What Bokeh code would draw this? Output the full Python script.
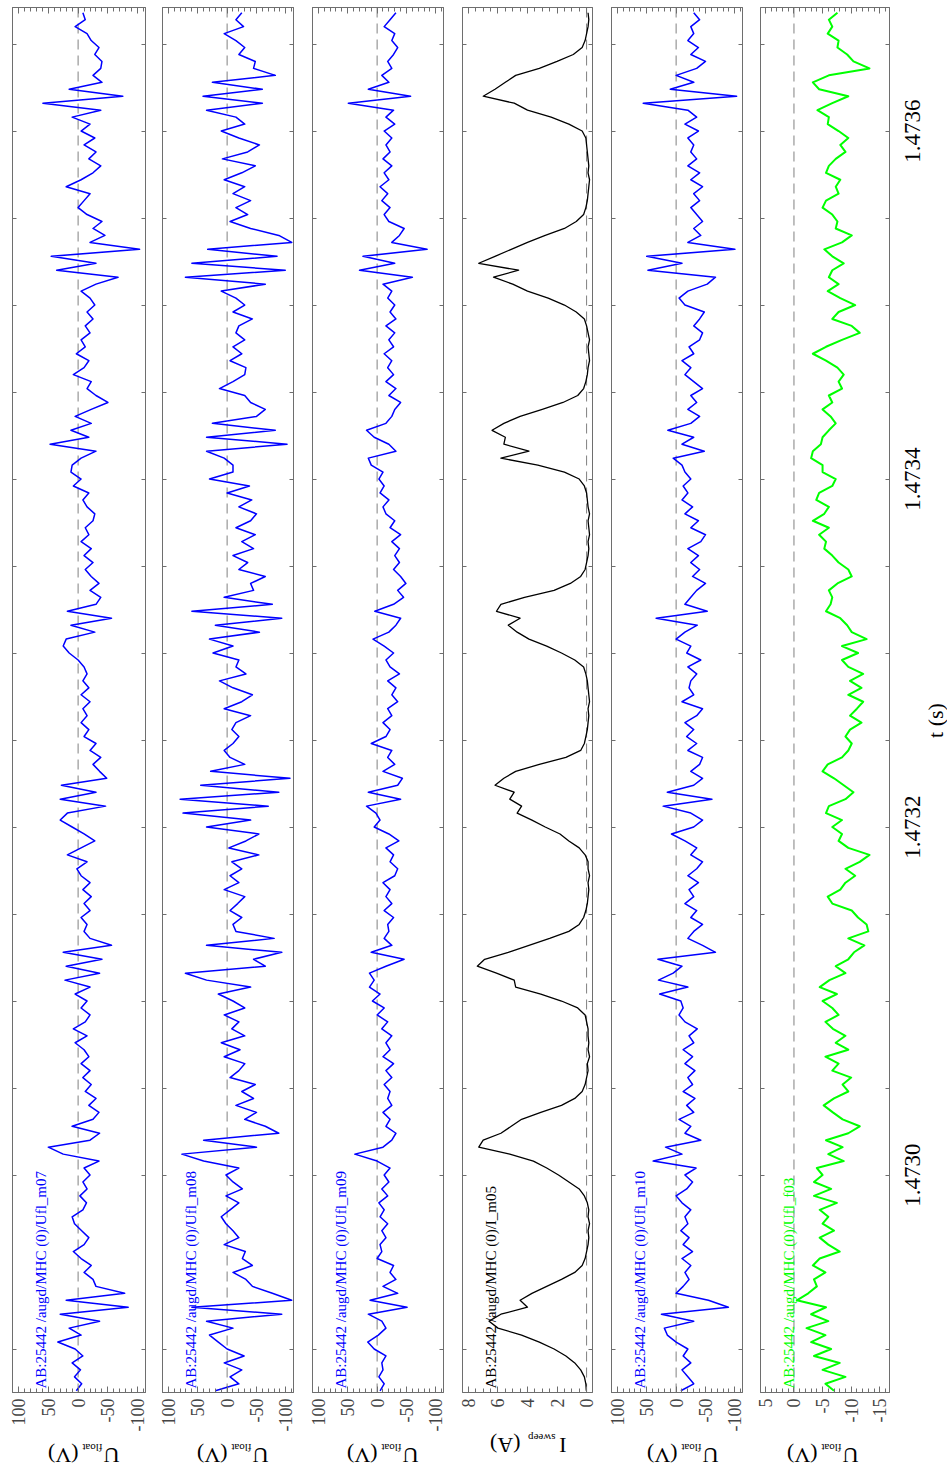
import math
import numpy as np
from bokeh.plotting import figure
from bokeh.layouts import row, column
from bokeh.models import (Range1d, LinearAxis, FixedTicker, Span, Label,
                          PrintfTickFormatter, ColumnDataSource,
                          CustomLabelingPolicy)
from bokeh.core.properties import value
from bokeh.embed import file_html
from bokeh.resources import INLINE

# ---------------- data ----------------
T0 = 1.472876          # first sample time (s)
DT = 0.000004          # sample spacing (s)
N_SAMPLES = 199
t = T0 + DT * np.arange(N_SAMPLES)

ufl_m07 = [3, -6, 6, -4, 10, -8, 5, 34, -5, 15,
           -36, 30, -84, 20, -78, -30, -25, -10, -22, -5,
           8, -10, -18, -6, 6, 10, -8, -14, -3, -15,
           -8, -20, -10, -35, 25, 50, -20, -36, 10, -25,
           -35, -18, -30, -12, -22, -8, -20, -5, -18, -10,
           5, -15, 8, -12, -20, -5, -15, 5, -20, 22,
           -36, 20, -40, 25, -56, -20, -10, -15, -5, -20,
           -10, -22, -8, -20, -5, 2, -15, 18, -5, -28,
           -10, 10, 30, 18, -46, 30, -30, 28, -48, -36,
           -25, -38, -20, -30, -10, -18, -5, -15, -8, -20,
           -5, -18, -8, -15, -10, 0, 15, 25, 20, -28,
           12, -56, 18, -30, -38, -20, -35, -22, -12, -25,
           -10, -22, -5, -18, -12, -25, -28, -15, -8, -18,
           8, -5, 12, 10, -5, -30, 47, -18, 12, -22,
           5, -22, -50, -30, -15, -22, 8, -10, -18, 3,
           -12, -5, -20, -12, -25, -15, -28, -20, -5, -30,
           -67, 36, -30, 45, -103, -20, -45, -25, -40, -15,
           0, -10, -20, 20, -5, -25, -38, -18, -30, -10,
           -28, -5, -20, 10, -38, 59, -75, 15, -40, -25,
           -38, -40, -28, -35, -22, -15, 5, -12, -8]

ufl_m08 = [20, -20, -5, -25, 5, -29, 0, 15, 30, -10,
           35, -93, 60, -110, -77, -43, -32, -10, -43, -26,
           -31, 5, -20, -10, 2, 10, -5, -20, 2, -26,
           -10, 2, -20, 40, 77, -50, 40, -88, -65, -30,
           -50, -15, -45, -25, -48, -5, -20, -30, 5, -22,
           10, -30, -8, -20, 5, -30, -10, 15, -40, 35,
           71, -65, -45, -93, 35, -80, -15, -10, -25, -5,
           -18, -30, 5, -20, -5, -25, -8, -54, -3, -32,
           -54, 35, -40, 75, -70, 80, -88, 45, -107, 28,
           -30, -5, 5, -10, -20, -8, -15, -40, 5, -25,
           -43, -10, 13, -32, -15, -20, 24, -10, 30, -55,
           20, -93, 60, -77, 5, -45, -40, -65, -20, -35,
           -10, -45, -25, -48, -15, -40, -50, -20, -42, 0,
           -38, 30, -10, -10, 5, 35, -102, 35, -82, 25,
           -50, -65, -40, -30, 13, -10, -30, -32, -5, -25,
           -10, -30, -15, -20, -43, -10, -30, -15, 10, -65,
           71, -99, 60, -85, 33, -110, -88, -40, -5, -35,
           -15, -40, -10, -30, 5, -25, -48, 8, -35, -55,
           -20, 10, -30, -15, 35, -60, 41, -60, 25, -82,
           -45, -48, -20, -30, -15, 5, -28, -15, -25]

ufl_m09 = [-5, -12, -3, -10, -8, -15, 5, 16, -2, -15,
           -8, 15, -51, 12, -35, -10, -32, -22, -28, 0,
           -8, -5, -15, -8, -18, -5, -12, -3, -18, -8,
           -20, -12, -22, 0, 38, -10, -25, -32, -15, -22,
           -10, -25, -18, -22, -12, -25, -15, -28, -10, -22,
           -15, -25, -8, -18, 0, -12, 8, -5, 13, 5,
           13, -15, -46, 10, -25, -12, -20, -18, -28, -12,
           -25, -15, -22, -10, -30, -35, -22, -28, -15, -37,
           -20, 5, -5, 2, 18, -40, 15, -35, -43, -10,
           -30, -18, -25, 10, -15, -22, -10, -25, -18, -35,
           -25, -32, -18, -38, -22, -15, -28, -12, 7, -20,
           -32, -40, 4, -28, -45, -35, -49, -40, -28, -38,
           -30, -38, -25, -40, -22, -30, -15, -10, -20, -5,
           -12, -3, -10, 10, 15, -32, -20, 5, 18, -15,
           -25, -30, -40, -20, -32, -15, -28, -18, -25, -12,
           -28, -20, -30, -15, -32, -22, -30, -18, -25, -10,
           -60, 30, -30, 24, -85, -25, -38, -46, -20, -12,
           -22, -8, -18, -5, -20, -12, -25, -10, -22, -15,
           -25, -12, -30, -15, -28, 49, -57, 15, -20, -8,
           -25, -18, -28, -35, -25, -30, -12, -22, -32]

i_m05 = [0.02, 0.05, 0.15, 0.4, 0.8, 1.4, 2.2, 3.2, 4.4, 6.0,
         6.6, 5.8, 4.0, 4.5, 3.7, 2.7, 1.7, 0.8, 0.3, 0.1,
         0.0, -0.1, -0.15, -0.1, -0.2, -0.1, -0.15, -0.05, 0.15, 0.5,
         1.2, 1.9, 2.7, 3.6, 5.2, 7.3, 7.0, 5.8, 5.1, 4.4,
         3.1, 1.7, 0.8, 0.3, 0.1, 0.0, -0.1, -0.05, -0.2, -0.1,
         -0.15, -0.1, -0.1, 0.0, 0.1, 0.6, 1.7, 3.1, 4.8, 4.9,
         6.1, 7.4, 6.9, 5.3, 3.9, 2.5, 1.2, 0.5, 0.2, 0.05,
         -0.05, -0.1, -0.15, -0.1, -0.2, -0.1, -0.1, 0.1, 0.5, 1.2,
         1.8, 2.8, 3.7, 4.7, 4.4, 5.2, 4.9, 6.2, 5.6, 4.8,
         3.2, 1.4, 0.4, 0.15, 0.05, -0.05, -0.1, -0.15, -0.1, -0.2,
         -0.15, -0.1, -0.05, 0.05, 0.2, 0.8, 1.7, 2.7, 3.9, 4.7,
         5.3, 4.5, 6.1, 5.8, 4.2, 2.2, 1.1, 0.4, 0.1, 0.0,
         -0.1, -0.15, -0.1, -0.2, -0.15, -0.1, -0.2, -0.1, -0.05, 0.0,
         0.15, 0.5, 1.5, 3.3, 5.8, 3.9, 5.6, 5.5, 6.4, 5.6,
         4.5, 3.0, 1.6, 0.6, 0.2, 0.05, -0.05, -0.1, -0.2, -0.15,
         -0.1, -0.2, -0.1, 0.0, 0.15, 0.7, 1.5, 2.6, 4.0, 5.0,
         6.3, 4.6, 7.3, 6.2, 5.1, 4.0, 2.8, 1.5, 0.7, 0.2,
         0.05, -0.05, -0.1, -0.15, -0.2, -0.1, -0.15, -0.1, -0.05, 0.0,
         0.05, 0.3, 1.2, 2.4, 4.0, 4.9, 7.0, 6.2, 5.5, 4.8,
         3.2, 2.0, 0.9, 0.3, 0.1, 0.0, -0.1, -0.15, -0.1]

ufl_m10 = [-8, -30, -20, -10, -25, -12, -20, 0, 15, 20,
           -30, 25, -89, -55, 0, -12, -22, -15, -25, -10,
           -28, -12, -22, -8, -20, -15, -25, -10, 0, -18,
           -28, -15, -34, 39, -10, 18, -42, -15, -25, -5,
           -30, -18, -32, -12, -28, -20, -32, -15, -28, -12,
           -30, -22, -36, -15, -5, -12, -8, 28, -20, 30,
           5, -10, 31, -67, -45, -20, -30, -45, -25, -35,
           -15, -30, -22, -38, -20, -35, -45, -25, -35, -15,
           8, -30, -45, -25, 22, -61, 15, -30, -45, -25,
           -40, -45, -20, -35, -18, -30, -15, -35, -45, -10,
           -30, -22, -25, -35, -20, -42, -18, -25, 0, -15,
           -36, 34, -53, -15, -25, -35, -50, -28, -40, -25,
           -38, -20, -42, -50, -25, -38, -15, -28, -10, -20,
           -12, -25, -15, -10, 5, -48, -10, -30, 14, -25,
           -40, -20, -35, -25, -45, -30, -15, -25, -10, -30,
           -22, -40, -45, -30, -40, -48, -15, -5, -20, -53,
           -67, 48, -10, 50, -100, -20, -42, -30, -45, -35,
           -25, -40, -30, -45, -25, -40, -20, -35, -25, -30,
           -20, -38, -15, -35, -20, 56, -103, 10, -30, 0,
           -35, -50, -25, -38, -20, -30, -25, -40, -30]

ufl_f03 = [-7, -5.5, -9, -5, -8, -3.5, -6.5, -3, -5.5, -2.2,
           -6, -3, -5.6, -0.5, -2.5, -4, -3.5, -5.5, -3.3, -4.5,
           -8, -6, -4.5, -7, -5, -6, -4.5, -7.5, -3.5, -6.5,
           -3.5, -5, -4, -8.7, -6, -8.5, -5.6, -9.5, -11.5, -8.5,
           -6.8, -5.2, -7, -9.5, -8.5, -10, -6.7, -7.8, -5.5, -9.5,
           -7.3, -9, -6.8, -5.5, -7.8, -6.7, -5, -7.5, -4.5, -6.2,
           -9, -7.3, -9.5, -10.5, -12.3, -9.5, -13, -12.7, -11.2, -10.1,
           -6.7, -5.9, -8.1, -9, -10.7, -9, -11.5, -13.2, -9.5, -7.8,
           -8.4, -6.7, -8.4, -5.6, -6.1, -9, -10.4, -8.7, -7, -5,
           -5.9, -8.4, -9.5, -10.1, -9, -9.8, -11.8, -9.8, -11, -12.1,
           -9.5, -11.8, -9.8, -12.1, -9.5, -8.4, -11.2, -8.4, -12.7, -10.1,
           -9.3, -8.1, -5.6, -6.4, -6.7, -6.1, -7.6, -10.1, -9.5, -7.8,
           -6.7, -5.3, -5.6, -4.4, -6.1, -3.3, -5.3, -6.1, -3.9, -4.4,
           -6.7, -7.3, -5, -5, -3, -3.3, -4.7, -5, -6.1, -7.3,
           -6.4, -5, -6.7, -6.1, -8.4, -7.8, -8.7, -7.6, -5.6, -3.3,
           -5.6, -8.4, -11.5, -10.1, -6.7, -7.8, -10.7, -8.1, -5.9, -7.8,
           -6.1, -6.7, -8.7, -6.7, -5.3, -8.4, -10.1, -7.3, -7.6, -6.7,
           -5, -5.6, -7.8, -7.3, -8.1, -5.6, -6.1, -7.3, -9, -8.1,
           -9.5, -7.8, -5.9, -6.1, -4.1, -6.7, -9.5, -4.4, -3.3, -6.1,
           -13.2, -10.4, -9.3, -7.6, -7.8, -5.9, -6.7, -6.1, -7.6]

# time axis
T_RANGE = (1.472875, 1.473671)
T_LABELED = [1.4730, 1.4732, 1.4734, 1.4736]
T_UNLABELED = [1.4729, 1.47305, 1.4731, 1.47315, 1.47325, 1.4733,
               1.47335, 1.47345, 1.4735, 1.47355, 1.47365]
T_TITLE = "t (s)"

# value-axis ticks
BLUE_MAJOR = [100, 50, 0, -50, -100]
BLUE_MINOR = [110, 90, 80, 70, 60, 40, 30, 20, 10, -10, -20, -30, -40,
              -60, -70, -80, -90, -110]
I_MAJOR = [8, 6, 4, 2, 0]
I_MINOR = [7.5, 7, 6.5, 5.5, 5, 4.5, 3.5, 3, 2.5, 1.5, 1, 0.5]
G_MAJOR = [5, 0, -5, -10, -15]
G_MINOR = [4, 3, 2, 1, -1, -2, -3, -4, -6, -7, -8, -9, -11, -12, -13,
           -14, -16]

SIGNALS = ["AB:25442 /augd/MHC (0)/Ufl_m07", "AB:25442 /augd/MHC (0)/Ufl_m08",
           "AB:25442 /augd/MHC (0)/Ufl_m09", "AB:25442 /augd/MHC (0)/I_m05",
           "AB:25442 /augd/MHC (0)/Ufl_m10", "AB:25442 /augd/MHC (0)/Ufl_f03"]

# ---------------- styling / layout ----------------
FRAME = "#6e6e6e"
SERIF = "Liberation Serif"
FRAME_TOP = 7
FRAME_BOTTOM = 1392
HEIGHT = 1480

panels = [
    dict(y=ufl_m07, color="#0000ff", lw=1.5, rng=(110, -113), major=BLUE_MAJOR,
         minor=BLUE_MINOR, main="U", sub="float", unit="(V)", left=0, width=153,
         bl=12, br=8, ph=1442, ua=107, sa=90, va=66, base=1455, subbase=1447),
    dict(y=ufl_m08, color="#0000ff", lw=1.5, rng=(110, -113), major=BLUE_MAJOR,
         minor=BLUE_MINOR, main="U", sub="float", unit="(V)", left=153, width=149,
         bl=9, br=9, ph=1442, ua=259, sa=242, va=218, base=1455, subbase=1447),
    dict(y=ufl_m09, color="#0000ff", lw=1.5, rng=(110, -113), major=BLUE_MAJOR,
         minor=BLUE_MINOR, main="U", sub="float", unit="(V)", left=302, width=150,
         bl=10, br=9, ph=1442, ua=408, sa=391, va=367, base=1455, subbase=1447),
    dict(y=i_m05, color="#000000", lw=1.3, rng=(8.4, -0.4), major=I_MAJOR,
         minor=I_MINOR, main="I", sub="sweep", unit="(A)", left=452, width=149,
         bl=10, br=9, ph=1426, ua=556, sa=545, va=510, base=1445, subbase=1437),
    dict(y=ufl_m10, color="#0000ff", lw=1.5, rng=(110, -113), major=BLUE_MAJOR,
         minor=BLUE_MINOR, main="U", sub="float", unit="(V)", left=601, width=150,
         bl=10, br=9, ph=1442, ua=708, sa=691, va=667, base=1455, subbase=1447),
    dict(y=ufl_f03, color="#00ff00", lw=2.0, rng=(5.85, -16.7), major=G_MAJOR,
         minor=G_MINOR, main="U", sub="float", unit="(V)", left=751, width=144,
         bl=9, br=3, ph=1442, ua=849, sa=832, va=808, base=1455, subbase=1447),
]
TFIG_LEFT = 895
TFIG_WIDTH = 947 - TFIG_LEFT


def no_labels_policy():
    return CustomLabelingPolicy(code="return new Set()")


def style_axis(ax):
    ax.axis_line_color = FRAME
    ax.major_tick_line_color = FRAME
    ax.minor_tick_line_color = FRAME


def hide_labels(ax):
    ax.major_label_text_font_size = "1px"
    ax.major_label_standoff = 0
    ax.major_label_policy = no_labels_policy()


def bare_figure(width, height, xr, yr, top=0, bottom=0):
    f = figure(width=width, height=height, x_range=xr, y_range=yr,
               output_backend="svg", toolbar_location=None,
               x_axis_location=None, y_axis_location=None,
               min_border_left=0, min_border_right=0,
               min_border_top=top, min_border_bottom=bottom)
    f.outline_line_color = None
    f.background_fill_color = "white"
    f.border_fill_color = "white"
    for g in f.grid:
        g.visible = False
    return f


columns = []
for k, cfg in enumerate(panels):
    p = figure(width=cfg["width"], height=cfg["ph"],
               x_range=Range1d(*cfg["rng"]), y_range=Range1d(*T_RANGE),
               output_backend="svg", toolbar_location=None,
               x_axis_location="below", y_axis_location=None,
               min_border_left=cfg["bl"], min_border_right=cfg["br"],
               min_border_top=FRAME_TOP, min_border_bottom=cfg["ph"] - FRAME_BOTTOM)
    for g in p.grid:
        g.visible = False
    p.outline_line_color = FRAME
    p.background_fill_color = "white"
    p.border_fill_color = "white"

    # value axis (bottom, labelled)
    ax = p.xaxis[0]
    ax.ticker = FixedTicker(ticks=cfg["major"], minor_ticks=cfg["minor"])
    ax.formatter = PrintfTickFormatter(format="%d")
    ax.major_label_orientation = math.pi / 2
    ax.major_label_text_font = SERIF
    ax.major_label_text_font_size = "18px"
    ax.major_label_standoff = 6
    ax.major_tick_in = 6
    ax.major_tick_out = 0
    ax.minor_tick_in = 4
    ax.minor_tick_out = 0
    style_axis(ax)

    # mirrored value ticks on top
    top = LinearAxis(ticker=FixedTicker(ticks=cfg["major"], minor_ticks=cfg["minor"]),
                     major_tick_in=6, major_tick_out=0, minor_tick_in=4, minor_tick_out=0)
    hide_labels(top)
    style_axis(top)
    p.add_layout(top, "above")

    # time ticks on both sides
    for side in ("left", "right"):
        tax = LinearAxis(ticker=FixedTicker(ticks=T_LABELED, minor_ticks=T_UNLABELED),
                         major_tick_in=4, major_tick_out=0, minor_tick_in=4, minor_tick_out=0)
        style_axis(tax)
        hide_labels(tax)
        p.add_layout(tax, side)

    # zero line
    p.add_layout(Span(location=0, dimension="height", line_color="#808080",
                      line_dash="10 6", line_width=1, level="underlay"))

    # trace
    p.line(x=cfg["y"], y=t, line_color=cfg["color"], line_width=cfg["lw"],
           line_join="round")

    # signal name
    p.add_layout(Label(x=28, y=4, x_units="screen", y_units="screen",
                       text=SIGNALS[k], angle=math.pi / 2, text_align="left",
                       text_baseline="alphabetic", text_font=SERIF,
                       text_font_size="15px", text_color=cfg["color"]))

    # value-axis label figure underneath (upside-down text)
    lh = HEIGHT - cfg["ph"]
    lf = bare_figure(cfg["width"], lh, Range1d(0, 1), Range1d(0, 1))
    for txt, ax_x, ax_y, size in ((cfg["main"], cfg["ua"], cfg["base"], "22px"),
                                  (cfg["sub"], cfg["sa"], cfg["subbase"], "11px"),
                                  (cfg["unit"], cfg["va"], cfg["base"], "22px")):
        lf.add_layout(Label(x=ax_x - cfg["left"], y=HEIGHT - ax_y, x_units="screen",
                            y_units="screen", text=txt, angle=math.pi,
                            text_align="left", text_baseline="alphabetic",
                            text_font=SERIF, text_font_size=size,
                            text_color="black"))
    columns.append(column(p, lf, spacing=0))

# time tick labels and title, in a narrow strip to the right
tfig = bare_figure(TFIG_WIDTH, HEIGHT, Range1d(0, TFIG_WIDTH), Range1d(*T_RANGE),
                   top=FRAME_TOP, bottom=HEIGHT - FRAME_BOTTOM)
tsrc = ColumnDataSource(data=dict(t=T_LABELED, x=[16.5] * len(T_LABELED),
                                  txt=["%.4f" % v for v in T_LABELED]))
tfig.text(x="x", y="t", text="txt", source=tsrc, angle=math.pi / 2,
          text_align="center", text_baseline="middle",
          text_font=value(SERIF), text_font_size="23px", text_color="black")
tfig.add_layout(Label(x=39.5, y=FRAME_BOTTOM - 720, x_units="screen", y_units="screen",
                      text=T_TITLE, angle=math.pi / 2, text_align="center",
                      text_baseline="middle", text_font=SERIF,
                      text_font_size="22px", text_color="black"))

layout = row(*columns, tfig, spacing=0)
open("out.html", "w").write(file_html(layout, INLINE, title="AB:25442 probe signals"))
